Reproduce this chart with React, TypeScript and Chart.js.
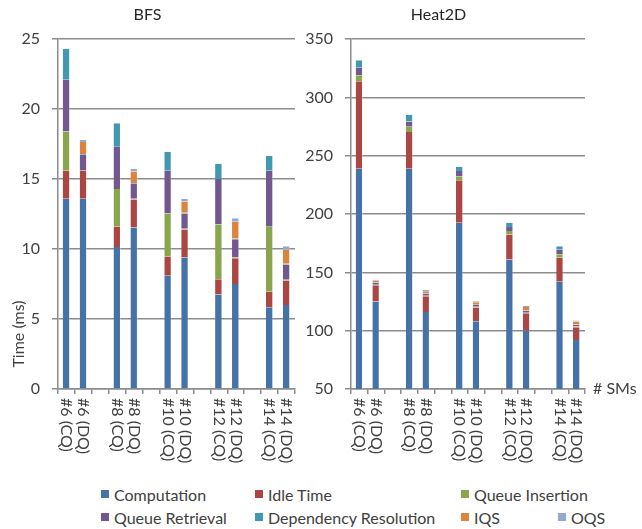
import { useEffect, useRef } from 'react';
import { Chart, registerables } from 'chart.js';

Chart.register(...registerables);

const categories = ['#6 (CQ)', '#6 (DQ)', '', '#8 (CQ)', '#8 (DQ)', '', '#10 (CQ)', '#10 (DQ)', '', '#12 (CQ)', '#12 (DQ)', '', '#14 (CQ)', '#14 (DQ)'];

const seriesNames = ['Computation', 'Idle Time', 'Queue Insertion', 'Queue Retrieval', 'Dependency Resolution', 'IQS', 'OQS'];
const seriesColors = ['#4572A7', '#AA4643', '#89A54E', '#71588F', '#4198AF', '#DB843D', '#93A9CF'];

// BFS (ms)
const bfsComputation = [13.6, 13.6, null, 10.15, 11.55, null, 8.1, 9.4, null, 6.75, 7.5, null, 5.85, 6.0];
const bfsIdle = [2.0, 2.0, null, 1.45, 2.0, null, 1.35, 2.0, null, 1.1, 1.85, null, 1.1, 1.75];
const bfsQueueInsertion = [2.8, 0.05, null, 2.7, 0.05, null, 3.1, 0.05, null, 3.9, 0.05, null, 4.65, 0.05];
const bfsQueueRetrieval = [3.7, 1.1, null, 3.05, 1.05, null, 3.05, 1.1, null, 3.25, 1.3, null, 4.0, 1.1];
const bfsDependency = [2.2, 0.05, null, 1.65, 0.05, null, 1.35, 0.05, null, 1.1, 0.05, null, 1.05, 0.05];
const bfsIQS = [0, 0.85, null, 0, 0.85, null, 0, 0.8, null, 0, 1.2, null, 0, 1.0];
const bfsOQS = [0, 0.15, null, 0, 0.2, null, 0, 0.2, null, 0, 0.25, null, 0, 0.25];

// Heat2D (ms)
const heatComputation = [239, 125, null, 239, 116, null, 192.5, 108, null, 161, 100, null, 142, 92];
const heatIdle = [75, 14, null, 31.5, 13.5, null, 36.5, 12, null, 21.5, 15, null, 20.5, 11];
const heatQueueInsertion = [5, 0.5, null, 4.5, 0.5, null, 3.5, 0.5, null, 3, 0.5, null, 3, 0.5];
const heatQueueRetrieval = [6.5, 1.5, null, 4.5, 1.5, null, 4.5, 1.5, null, 3.5, 1.5, null, 4, 1.5];
const heatDependency = [6.5, 0.3, null, 5.5, 0.3, null, 3.5, 0.3, null, 3.5, 0.3, null, 3, 0.3];
const heatIQS = [0, 1.5, null, 0, 2, null, 0, 2, null, 0, 3, null, 0, 2.5];
const heatOQS = [0, 1, null, 0, 1, null, 0, 1, null, 0, 1, null, 0, 1];

const bfsSeries = [bfsComputation, bfsIdle, bfsQueueInsertion, bfsQueueRetrieval, bfsDependency, bfsIQS, bfsOQS];
const heatSeries = [heatComputation, heatIdle, heatQueueInsertion, heatQueueRetrieval, heatDependency, heatIQS, heatOQS];

const FONT = 'Lato, "Noto Sans", sans-serif';
const TEXT = '#404040';
const GRID = '#8c8c8c';

function makeTextPlugin(showYTitle: boolean, showSMs: boolean) {
  return {
    id: 'customText',
    afterDraw(chart: any) {
      const ctx = chart.ctx;
      const xs = chart.scales.x;
      ctx.save();
      ctx.font = `16px ${FONT}`;
      ctx.fillStyle = TEXT;
      ctx.textAlign = 'left';
      ctx.textBaseline = 'middle';
      categories.forEach((lab, i) => {
        if (!lab) return;
        const x = xs.getPixelForValue(i);
        ctx.save();
        ctx.translate(x, xs.top + 9);
        ctx.rotate(Math.PI / 2);
        ctx.fillText(lab, 0, 0);
        ctx.restore();
      });
      if (showSMs) {
        ctx.textAlign = 'left';
        ctx.fillText('# SMs', xs.right + 8, xs.top);
      }
      if (showYTitle) {
        ctx.save();
        ctx.font = `16px ${FONT}`;
        ctx.translate(18.5, 334);
        ctx.rotate(-Math.PI / 2);
        ctx.textAlign = 'center';
        ctx.fillText('Time (ms)', 0, 0);
        ctx.restore();
      }
      ctx.restore();
    },
  };
}

function makeConfig(title: string, series: (number | null)[][], yMin: number, yMax: number, yStep: number, yWidth: number, padRight: number, showYTitle: boolean, showSMs: boolean) {
  return {
    type: 'bar' as const,
    data: {
      labels: categories,
      datasets: seriesNames.map((name, i) => ({
        label: name,
        data: series[i],
        backgroundColor: seriesColors[i],
        borderColor: 'rgba(255,255,255,0.3)',
        borderWidth: { top: 0, right: 1, left: 0, bottom: 0 },
        borderSkipped: false,
        barPercentage: 0.44,
        categoryPercentage: 1,
      })),
    },
    options: {
      animation: false,
      responsive: false,
      devicePixelRatio: 1,
      layout: { padding: { left: 0, right: padRight, top: 0, bottom: 0 } },
      plugins: {
        legend: { display: false },
        tooltip: { enabled: false },
        title: {
          display: true,
          text: title,
          color: '#262626',
          font: { family: FONT, size: 16, weight: 'normal' },
          padding: { top: 5, bottom: 15 },
        },
      },
      scales: {
        x: {
          stacked: true,
          offset: true,
          grid: { offset: true, drawOnChartArea: false, drawTicks: true, tickLength: 5, color: GRID, lineWidth: 1.5 },
          border: { display: true, color: GRID, width: 1.5 },
          ticks: { display: false },
          afterFit: (scale: any) => { scale.height = 81; },
        },
        y: {
          stacked: true,
          min: yMin,
          max: yMax,
          ticks: { stepSize: yStep, color: TEXT, padding: 12, font: { family: FONT, size: 16 } },
          grid: { color: GRID, lineWidth: 1.5, drawTicks: true, tickLength: 6 },
          border: { display: true, color: GRID, width: 1.5 },
          afterFit: (scale: any) => { scale.width = yWidth; },
        },
      },
    },
    plugins: [makeTextPlugin(showYTitle, showSMs)],
  };
}

const legendPositions = [
  { x: 101, y: 494 },
  { x: 255, y: 494 },
  { x: 461, y: 494 },
  { x: 101, y: 517 },
  { x: 255, y: 517 },
  { x: 461, y: 517 },
  { x: 558, y: 517 },
];

export default function App() {
  const leftRef = useRef<HTMLCanvasElement | null>(null);
  const rightRef = useRef<HTMLCanvasElement | null>(null);

  useEffect(() => {
    const c1 = new Chart(leftRef.current as HTMLCanvasElement, makeConfig('BFS', bfsSeries, 0, 25, 5, 58, 15, true, false) as any);
    const c2 = new Chart(rightRef.current as HTMLCanvasElement, makeConfig('Heat2D', heatSeries, 50, 350, 50, 59, 57, false, true) as any);
    return () => {
      c1.destroy();
      c2.destroy();
    };
  }, []);

  return (
    <div style={{ position: 'absolute', left: 0, top: 0, width: 642, height: 529, background: '#fff', fontFamily: FONT, overflow: 'hidden' }}>
      <canvas ref={leftRef} width={310} height={470} style={{ position: 'absolute', left: 0, top: 0, width: 310, height: 470 }} />
      <canvas ref={rightRef} width={350} height={470} style={{ position: 'absolute', left: 292, top: 0, width: 350, height: 470 }} />
      {seriesNames.map((name, i) => (
        <div key={name} style={{ position: 'absolute', left: legendPositions[i].x, top: legendPositions[i].y - 10, height: 20, display: 'flex', alignItems: 'center', whiteSpace: 'nowrap', fontSize: 16, color: TEXT }}>
          <span style={{ display: 'inline-block', width: 8, height: 8, background: seriesColors[i], marginRight: 5 }} />
          <span>{name}</span>
        </div>
      ))}
    </div>
  );
}
